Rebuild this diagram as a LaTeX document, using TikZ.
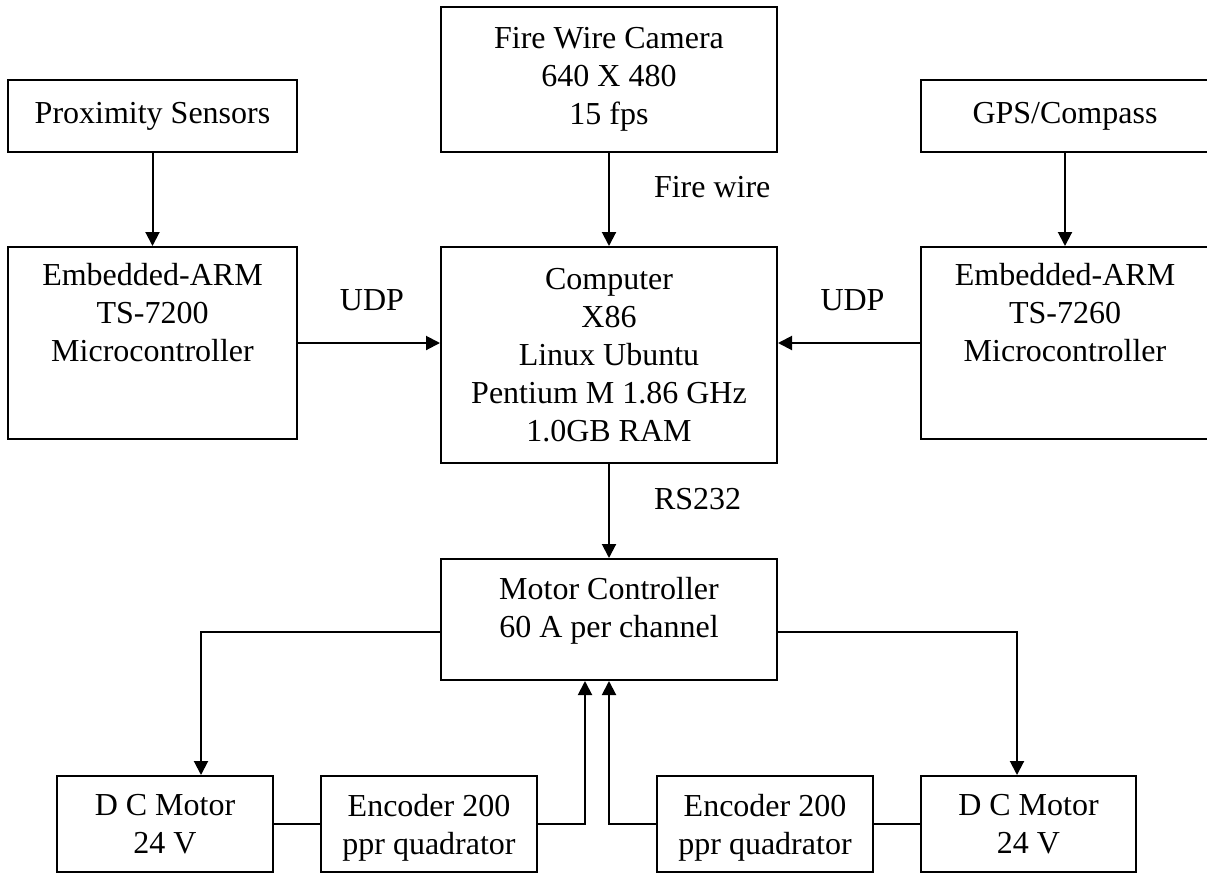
\documentclass[tikz,border=0pt]{standalone}
\usepackage{fontspec}
\setmainfont{Liberation Serif}
\usetikzlibrary{arrows.meta}
\begin{document}
\begin{tikzpicture}[x=1pt,y=-1pt,
  every node/.style={font=\fontsize{32}{38}\selectfont},
  box/.style={draw, line width=2pt, inner sep=0pt, align=center},
  caption/.style={inner sep=0pt, align=center},
  wire/.style={line width=2pt},
  arr/.style={wire, -{Triangle[length=14pt,width=14pt]}}]
\useasboundingbox (0,0) rectangle (1207,873);

% sensors and camera
\node[box, minimum width=289pt, minimum height=72pt] (prox) at (152.5,116) {Proximity Sensors};
\node[box, minimum width=336pt, minimum height=145pt] (cam) at (609,79.5) {Fire Wire Camera\\640 X 480\\15 fps};
\node[box, minimum width=288pt, minimum height=72pt] (gps) at (1065,116) {GPS/Compass};

% processing units
\node[box, minimum width=289pt, minimum height=192pt] (arm1) at (152.5,343) {};
\node[caption, anchor=north] (arm1t) at ([yshift=-17pt]arm1.north) {Embedded-ARM\\TS-7200\\Microcontroller};
\node[box, minimum width=336pt, minimum height=216pt] (comp) at (609,355) {Computer\\X86\\Linux Ubuntu\\Pentium M 1.86 GHz\\1.0GB RAM};
\node[box, minimum width=288pt, minimum height=192pt] (arm2) at (1065,343) {};
\node[caption, anchor=north] (arm2t) at ([yshift=-17pt]arm2.north) {Embedded-ARM\\TS-7260\\Microcontroller};

% drive
\node[box, minimum width=336pt, minimum height=121pt] (mc) at (609,619.5) {};
\node[caption, anchor=north] (mct) at ([yshift=-19pt]mc.north) {Motor Controller\\60 A per channel};
\node[box, minimum width=216pt, minimum height=96pt] (dc1) at (165,824) {D C Motor\\24 V};
\node[box, minimum width=216pt, minimum height=96pt] (enc1) at (429,824) {};
\node[caption, anchor=north] (enc1t) at ([yshift=-19pt]enc1.north) {Encoder 200\\ppr quadrator};
\node[box, minimum width=216pt, minimum height=96pt] (enc2) at (765,824) {};
\node[caption, anchor=north] (enc2t) at ([yshift=-19pt]enc2.north) {Encoder 200\\ppr quadrator};
\node[box, minimum width=215pt, minimum height=96pt] (dc2) at (1028.5,824) {D C Motor\\24 V};

% connections
\draw[arr] (prox) -- (arm1);
\draw[arr] (gps) -- (arm2);
\draw[arr] (cam) -- node[caption, anchor=base west, xshift=44pt, yshift=2.5pt] (fwl) {Fire wire} (comp);
\draw[arr] (arm1.east) -- node[caption, anchor=base, xshift=3pt, yshift=33pt] (udpl) {UDP} (arm1.east -| comp.west);
\draw[arr] (arm2.west) -- node[caption, anchor=base, xshift=3.5pt, yshift=33pt] (udpr) {UDP} (arm2.west -| comp.east);
\draw[arr] (comp) -- node[caption, anchor=base west, xshift=44pt, yshift=2pt] (rsl) {RS232} (mc);
\draw[arr] ([yshift=-12.5pt]mc.west) -| ([xshift=36pt]dc1.north);
\draw[arr] ([yshift=-12.5pt]mc.east) -| ([xshift=-11.5pt]dc2.north);
\draw[wire] (dc1) -- (enc1);
\draw[wire] (enc2) -- (dc2);
\draw[arr] (enc1.east) -| ([xshift=-24pt]mc.south);
\draw[arr] (enc2.west) -| (mc.south);
\end{tikzpicture}
\end{document}
